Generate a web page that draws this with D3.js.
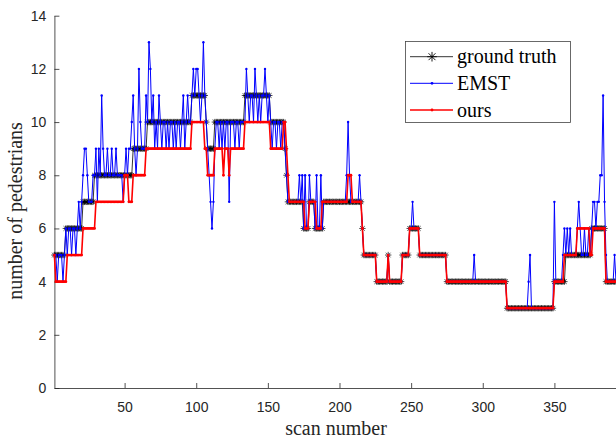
<!DOCTYPE html>
<html><head><meta charset="utf-8">
<script src="https://cdn.jsdelivr.net/npm/d3@7"></script>
<style>body{margin:0;background:#fff;overflow:hidden}</style>
</head><body>
<svg id="c" width="616" height="438"></svg>
<script>
const groundTruth = [
5,5,5,5,5,5,5,5,6,6,
6,6,6,6,6,6,6,6,6,6,
7,7,7,7,7,7,7,7,8,8,
8,8,8,8,8,8,8,8,8,8,
8,8,8,8,8,8,8,8,8,8,
8,8,8,8,8,9,9,9,9,9,
9,9,9,9,9,10,10,10,10,10,
10,10,10,10,10,10,10,10,10,10,
10,10,10,10,10,10,10,10,10,10,
10,10,10,10,10,10,11,11,11,11,
11,11,11,11,11,11,10,9,9,9,
9,9,10,10,10,10,10,10,10,10,
10,10,10,10,10,10,10,10,10,10,
10,10,10,11,11,11,11,11,11,11,
11,11,11,11,11,11,11,11,11,11,
11,10,10,10,10,10,10,10,10,10,
10,9,8,7,7,7,7,7,7,7,
7,7,7,7,6,6,6,6,7,7,
7,7,6,6,6,6,6,6,7,7,
7,7,7,7,7,7,7,7,7,7,
7,7,7,7,7,7,7,7,7,7,
7,7,7,7,7,6,5,5,5,5,
5,5,5,5,5,4,4,4,4,4,
4,4,4,5,4,4,4,4,4,4,
4,4,4,5,5,5,5,5,6,6,
6,6,6,6,6,5,5,5,5,5,
5,5,5,5,5,5,5,5,5,5,
5,5,5,5,4,4,4,4,4,4,
4,4,4,4,4,4,4,4,4,4,
4,4,4,4,4,4,4,4,4,4,
4,4,4,4,4,4,4,4,4,4,
4,4,4,4,4,4,3,3,3,3,
3,3,3,3,3,3,3,3,3,3,
3,3,3,3,3,3,3,3,3,3,
3,3,3,3,3,3,3,3,3,4,
4,4,4,4,4,4,4,5,5,5,
5,5,5,5,5,5,5,5,5,5,
5,5,5,5,5,6,6,6,6,6,
6,6,6,6,6,4,4,4,4,4,
4,4,4];

const emst = [
5,5,4,5,5,5,4,5,6,5,
6,6,5,6,6,5,6,7,6,7,
8,9,9,8,7,7,7,8,8,9,
7,9,8,11,9,8,8,9,8,8,
9,8,8,9,8,8,8,8,7,8,
9,8,9,9,10,11,9,8,9,12,
10,9,9,9,11,10,13,12,10,11,
9,10,9,11,10,9,10,10,9,10,
9,10,10,9,10,9,10,10,9,10,
11,9,10,11,10,10,11,12,11,12,
12,11,10,11,13,11,10,9,8,7,
6,7,9,10,10,9,10,9,10,9,
10,10,7,10,10,10,9,10,10,9,
10,10,10,10,12,11,10,11,11,10,
12,11,10,11,10,11,11,12,11,10,
11,10,9,10,10,9,10,10,9,10,
10,9,8,7,7,7,7,7,7,7,
7,8,7,8,6,8,6,6,8,7,
7,7,6,8,6,6,8,6,7,7,
7,7,7,7,7,7,7,7,7,7,
7,7,7,7,8,10,8,7,7,7,
7,7,7,8,7,6,5,5,5,5,
5,5,5,5,5,4,4,4,4,4,
4,4,4,5,4,4,4,4,4,4,
4,4,4,5,5,5,5,5,6,6,
7,6,6,6,6,5,5,5,5,5,
5,5,5,5,5,5,5,5,5,5,
5,5,5,5,4,4,4,4,4,4,
4,4,4,4,4,4,4,4,4,4,
4,4,4,5,4,4,4,4,4,4,
4,4,4,4,4,4,4,4,4,4,
4,4,4,4,4,4,3,3,3,3,
3,3,3,3,3,3,3,3,3,3,
3,4,5,3,3,3,3,3,3,3,
3,3,3,3,3,3,3,3,3,7,
4,4,4,4,4,5,6,5,6,5,
6,5,5,5,5,6,7,6,5,5,
6,5,5,6,5,6,7,7,6,7,
7,8,8,11,7,5,4,4,4,4,
4,5,4];

const ours = [
5,4,4,4,4,4,4,4,4,5,
5,5,5,5,5,5,5,5,5,5,
6,6,6,6,6,6,6,6,6,7,
7,7,7,7,7,7,7,7,7,7,
7,7,7,7,7,7,7,7,7,8,
8,8,7,7,7,8,8,8,8,8,
8,8,8,8,9,9,9,9,9,9,
9,9,9,9,9,9,9,9,9,9,
9,9,9,9,9,9,9,9,9,9,
9,9,9,9,9,9,10,10,10,10,
10,10,10,10,10,9,9,8,8,8,
8,8,9,9,9,9,9,9,8,9,
9,9,8,9,9,9,9,9,9,9,
9,9,9,10,10,10,10,10,10,10,
10,10,10,10,10,10,10,10,10,10,
10,9,9,9,9,9,9,9,9,9,
10,10,9,8,7,7,7,7,7,7,
7,7,7,7,7,6,6,6,7,7,
7,7,7,6,6,6,6,7,7,7,
7,7,7,7,7,7,7,7,7,7,
7,7,7,7,7,8,8,8,7,7,
7,7,7,7,7,6,5,5,5,5,
5,5,5,5,5,4,4,4,4,4,
4,4,4,5,4,4,4,4,4,4,
4,4,4,5,5,5,5,5,6,6,
6,6,6,6,6,5,5,5,5,5,
5,5,5,5,5,5,5,5,5,5,
5,5,5,5,4,4,4,4,4,4,
4,4,4,4,4,4,4,4,4,4,
4,4,4,4,4,4,4,4,4,4,
4,4,4,4,4,4,4,4,4,4,
4,4,4,4,4,4,3,3,3,3,
3,3,3,3,3,3,3,3,3,3,
3,3,3,3,3,3,3,3,3,3,
3,3,3,3,3,3,3,3,3,4,
4,4,4,4,4,4,5,5,5,5,
5,5,5,5,5,6,6,6,6,6,
6,6,6,6,5,5,6,6,6,6,
6,6,6,6,6,4,4,4,4,4,
4,4,4];

const xTicks = [50,100,150,200,250,300,350];
const yTicks = [0,2,4,6,8,10,12,14];
const seriesNames = ["ground truth","EMST","ours"];
const xLabel = "scan number";
const yLabel = "number of pedestrians";

const svg = d3.select("#c");
const x = d3.scaleLinear().domain([1, 393]).range([54.4, 616]);
const y = d3.scaleLinear().domain([0, 14]).range([388, 15.7]);
const axisColor = "#262626";

// axes
const gx = svg.append("g").attr("transform", "translate(0,388)")
  .call(d3.axisBottom(x).tickValues(xTicks).tickSizeInner(-5).tickSizeOuter(0).tickPadding(14));
const gy = svg.append("g").attr("transform", "translate(54.4,0)")
  .call(d3.axisLeft(y).tickValues(yTicks).tickSizeInner(-5).tickSizeOuter(0).tickPadding(8));
[gx, gy].forEach(g => {
  g.select(".domain").attr("stroke", axisColor).attr("stroke-width", 0.8);
  g.selectAll(".tick line").attr("stroke", axisColor).attr("stroke-width", 0.8);
  g.selectAll(".tick text").attr("fill", axisColor)
    .style("font-family", "'Liberation Sans', Arial, sans-serif").style("font-size", "14px");
});

const line = d3.line().x((d, i) => x(i + 1)).y(d => y(d));
const starPath = "M-3.2,0H3.2M0,-3.2V3.2M-2.3,-2.3L2.3,2.3M-2.3,2.3L2.3,-2.3";

// ground truth
const gGT = svg.append("g");
gGT.append("path").datum(groundTruth).attr("d", line)
  .attr("fill", "none").attr("stroke", "#000").attr("stroke-width", 0.8);
gGT.selectAll("path.m").data(groundTruth).join("path").attr("class", "m")
  .attr("transform", (d, i) => `translate(${x(i + 1)},${y(d)})`)
  .attr("d", starPath).attr("stroke", "#000").attr("stroke-width", 0.7).attr("fill", "none");

// EMST
const gE = svg.append("g");
gE.append("path").datum(emst).attr("d", line)
  .attr("fill", "none").attr("stroke", "#0000ff").attr("stroke-width", 1);
gE.selectAll("circle").data(emst).join("circle")
  .attr("cx", (d, i) => x(i + 1)).attr("cy", d => y(d)).attr("r", 1.2).attr("fill", "#0000ff");

// ours
const gO = svg.append("g");
gO.append("path").datum(ours).attr("d", line)
  .attr("fill", "none").attr("stroke", "#ff0000").attr("stroke-width", 1.6);
gO.selectAll("circle").data(ours).join("circle")
  .attr("cx", (d, i) => x(i + 1)).attr("cy", d => y(d)).attr("r", 1.4).attr("fill", "#ff0000");

// legend
const lg = svg.append("g");
lg.append("rect").attr("x", 405.5).attr("y", 41.5).attr("width", 165).attr("height", 81)
  .attr("fill", "#fff").attr("stroke", "#444").attr("stroke-width", 0.8);
const legendColors = ["#000", "#0000ff", "#ff0000"];
const legendY = [56.7, 83.3, 110];
seriesNames.forEach((name, k) => {
  const cy = legendY[k];
  lg.append("line").attr("x1", 410).attr("x2", 453).attr("y1", cy).attr("y2", cy)
    .attr("stroke", legendColors[k]).attr("stroke-width", k === 2 ? 1.6 : (k === 0 ? 0.8 : 1));
  if (k === 0) {
    lg.append("path").attr("transform", `translate(432,${cy}) scale(1.5)`).attr("d", starPath)
      .attr("stroke", "#000").attr("stroke-width", 0.6).attr("fill", "none");
  } else {
    lg.append("circle").attr("cx", 432).attr("cy", cy).attr("r", 1.4).attr("fill", legendColors[k]);
  }
  lg.append("text").attr("x", 457).attr("y", cy + 6.5).text(name)
    .style("font-family", "'Liberation Serif', 'Times New Roman', serif").style("font-size", "20px").attr("fill", "#000");
});

// axis labels
svg.append("text").attr("x", 336).attr("y", 435).attr("text-anchor", "middle").text(xLabel)
  .style("font-family", "'Liberation Serif', 'Times New Roman', serif").style("font-size", "20px").attr("fill", axisColor);
svg.append("text").attr("transform", "translate(22,211) rotate(-90)").attr("text-anchor", "middle").text(yLabel)
  .style("font-family", "'Liberation Serif', 'Times New Roman', serif").style("font-size", "20px").attr("fill", axisColor);
</script>
</body></html>
